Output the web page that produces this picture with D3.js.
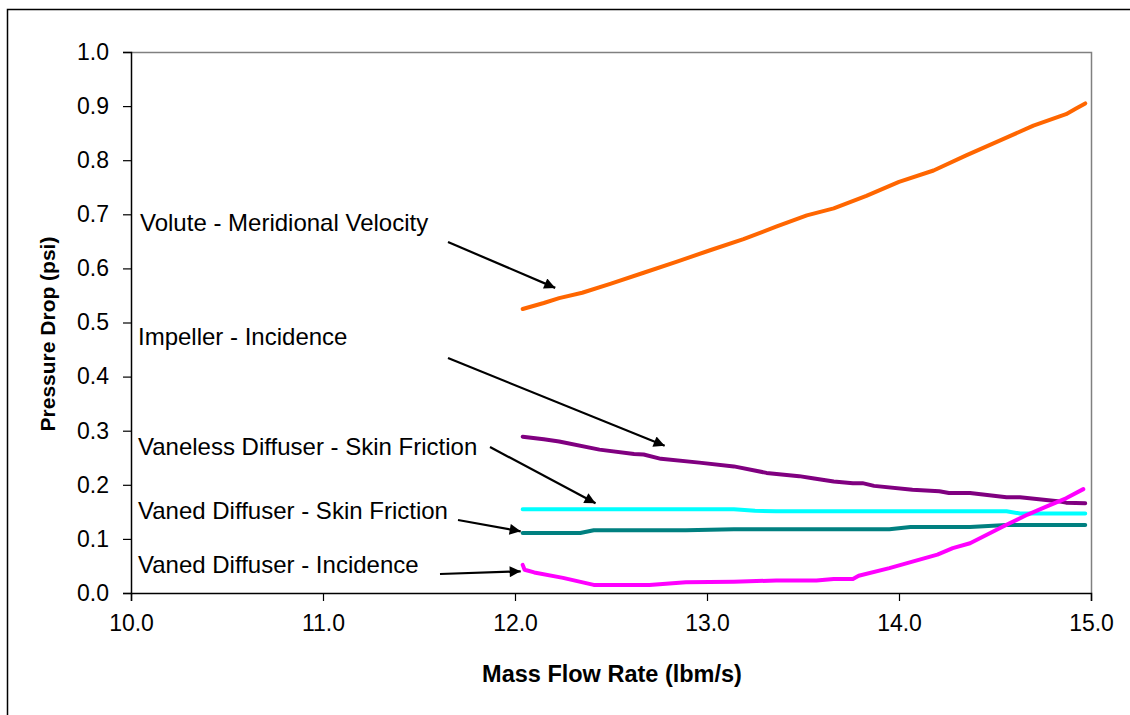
<!DOCTYPE html>
<html>
<head>
<meta charset="utf-8">
<script src="https://cdn.jsdelivr.net/npm/d3@7"></script>
<style>
  html, body { margin: 0; padding: 0; background: #fff; }
  svg { display: block; font-family: "Liberation Sans", Arial, sans-serif; }
</style>
</head>
<body>
<svg id="chart" width="1130" height="715"></svg>
<script>
// Mass flow rate (lbm/s) and pressure drop (psi) for each loss mechanism
const voluteX = [12.04, 12.15, 12.23, 12.35, 12.50, 12.67, 12.84, 13.02, 13.19, 13.36, 13.52, 13.66, 13.83, 14.00, 14.18, 14.35, 14.53, 14.70, 14.87, 14.92, 14.97];
const voluteY = [0.525, 0.536, 0.545, 0.555, 0.572, 0.592, 0.612, 0.634, 0.654, 0.677, 0.698, 0.711, 0.734, 0.760, 0.781, 0.809, 0.837, 0.864, 0.885, 0.895, 0.905];

const impellerX = [12.04, 12.15, 12.23, 12.44, 12.62, 12.67, 12.76, 12.96, 13.14, 13.31, 13.48, 13.55, 13.66, 13.76, 13.81, 13.87, 14.07, 14.21, 14.26, 14.37, 14.56, 14.63, 14.84, 14.87, 14.97];
const impellerY = [0.289, 0.284, 0.280, 0.265, 0.257, 0.256, 0.248, 0.241, 0.234, 0.222, 0.216, 0.212, 0.206, 0.203, 0.203, 0.198, 0.191, 0.188, 0.185, 0.185, 0.177, 0.177, 0.169, 0.167, 0.166];

const vanelessX = [12.04, 13.14, 13.25, 13.36, 14.56, 14.63, 14.97];
const vanelessY = [0.155, 0.155, 0.152, 0.151, 0.151, 0.147, 0.147];

const vanedFrictionX = [12.04, 12.34, 12.41, 12.89, 13.14, 13.95, 14.06, 14.37, 14.56, 14.97];
const vanedFrictionY = [0.111, 0.111, 0.116, 0.116, 0.118, 0.118, 0.122, 0.122, 0.1255, 0.1255];

const vanedIncX = [12.04, 12.05, 12.10, 12.25, 12.41, 12.70, 12.89, 13.14, 13.36, 13.57, 13.66, 13.76, 13.79, 13.95, 14.07, 14.20, 14.28, 14.37, 14.46, 14.56, 14.67, 14.77, 14.87, 14.96];
const vanedIncY = [0.052, 0.043, 0.038, 0.028, 0.015, 0.015, 0.020, 0.021, 0.023, 0.023, 0.026, 0.026, 0.032, 0.046, 0.058, 0.071, 0.083, 0.092, 0.108, 0.126, 0.145, 0.160, 0.175, 0.192];

const xTicks = [10, 11, 12, 13, 14, 15];
const yTicks = [0, 0.1, 0.2, 0.3, 0.4, 0.5, 0.6, 0.7, 0.8, 0.9, 1.0];

const seriesNames = ["Volute - Meridional Velocity", "Impeller - Incidence", "Vaneless Diffuser - Skin Friction", "Vaned Diffuser - Skin Friction", "Vaned Diffuser - Incidence"];
const seriesColors = ["#FF6600", "#800080", "#00FFFF", "#008080", "#FF00FF"];

// Callout arrow tips in data coordinates
const arrowTipX = [12.22, 12.79, 12.43, 12.04, 12.04];
const arrowTipY = [0.564, 0.272, 0.166, 0.114, 0.040];

const svg = d3.select("#chart");

const plot = { left: 131, right: 1091, top: 52, bottom: 593 };

const x = d3.scaleLinear().domain([10, 15]).range([plot.left, plot.right]);
const y = d3.scaleLinear().domain([0, 1]).range([plot.bottom, plot.top]);

// outer chart frame
svg.append("rect")
  .attr("x", 7.5).attr("y", 9.5)
  .attr("width", 1140).attr("height", 720)
  .attr("fill", "none").attr("stroke", "#000").attr("stroke-width", 1.5);

// plot area border (top and right)
svg.append("path")
  .attr("d", `M${plot.left},${plot.top + 0.5}H${plot.right + 0.5}V${plot.bottom}`)
  .attr("fill", "none").attr("stroke", "#808080").attr("stroke-width", 1.5);

// axes
const xAxis = d3.axisBottom(x).tickValues(xTicks).tickFormat(d3.format(".1f")).tickSizeOuter(0).tickSize(8).tickPadding(14);
const yAxis = d3.axisLeft(y).tickValues(yTicks).tickFormat(d3.format(".1f")).tickSizeOuter(0).tickSize(8).tickPadding(14);

const gx = svg.append("g").attr("transform", `translate(0,${plot.bottom})`).call(xAxis);
const gy = svg.append("g").attr("transform", `translate(${plot.left},0)`).call(yAxis);

[gx, gy].forEach(g => {
  g.select(".domain").attr("stroke", "#000").attr("stroke-width", 1.5);
  g.selectAll(".tick line").attr("stroke", "#000").attr("stroke-width", 1.2);
  g.selectAll(".tick text")
    .attr("fill", "#000")
    .style("font-family", "'Liberation Sans', Arial, sans-serif")
    .style("font-size", "23px");
});

// axis titles
svg.append("text")
  .attr("x", 612).attr("y", 682)
  .attr("text-anchor", "middle")
  .style("font-size", "23.5px").style("font-weight", "bold")
  .text("Mass Flow Rate (lbm/s)");

svg.append("text")
  .attr("transform", "translate(55,334) rotate(-90)")
  .attr("text-anchor", "middle")
  .style("font-size", "21px").style("font-weight", "bold")
  .text("Pressure Drop (psi)");

// series lines
const line = d3.line().x(d => x(d[0])).y(d => y(d[1]));
const seriesX = [voluteX, impellerX, vanelessX, vanedFrictionX, vanedIncX];
const seriesY = [voluteY, impellerY, vanelessY, vanedFrictionY, vanedIncY];

seriesX.forEach((xs, i) => {
  const pts = xs.map((v, j) => [v, seriesY[i][j]]);
  svg.append("path")
    .datum(pts)
    .attr("d", line)
    .attr("fill", "none")
    .attr("stroke", seriesColors[i])
    .attr("stroke-width", 4)
    .attr("stroke-linejoin", "round")
    .attr("stroke-linecap", "round");
});

// callout labels with arrows
const labelPos = [[140, 231], [138, 345], [138, 455], [138, 519], [138, 573]];
const arrowStart = [[448, 242], [448, 358], [490, 447], [458, 520], [440, 574]];

svg.append("defs").append("marker")
  .attr("id", "head")
  .attr("viewBox", "0 0 10 10")
  .attr("refX", 10).attr("refY", 5)
  .attr("markerUnits", "userSpaceOnUse")
  .attr("markerWidth", 15).attr("markerHeight", 11)
  .attr("orient", "auto")
  .append("path").attr("d", "M0,0L10,5L0,10z").attr("fill", "#000");

seriesNames.forEach((name, i) => {
  svg.append("text")
    .attr("x", labelPos[i][0]).attr("y", labelPos[i][1])
    .style("font-size", "24px")
    .text(name);
  svg.append("line")
    .attr("x1", arrowStart[i][0]).attr("y1", arrowStart[i][1])
    .attr("x2", x(arrowTipX[i]) - 2).attr("y2", y(arrowTipY[i]))
    .attr("stroke", "#000").attr("stroke-width", 2.2)
    .attr("marker-end", "url(#head)");
});
</script>
</body>
</html>
